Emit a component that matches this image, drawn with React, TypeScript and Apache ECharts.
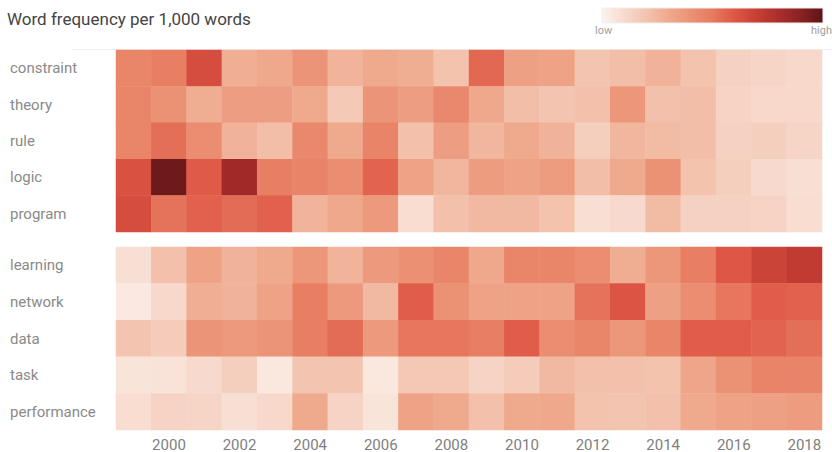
import React, { useEffect, useRef } from "react";
import * as echarts from "echarts";

const years = ["1999","2000","2001","2002","2003","2004","2005","2006","2007","2008","2009","2010","2011","2012","2013","2014","2015","2016","2017","2018"];
const topWords = ["constraint", "theory", "rule", "logic", "program"];
const bottomWords = ["learning", "network", "data", "task", "performance"];

const constraint = [45,48,64,28,31,39,26,30,29,20,55,34,33,19,22,27,20,14,12,11];
const theory = [45,40,29,35,35,30,17,39,35,44,31,22,19,21,38,21,22,13,11,11];
const rule = [45,53,42,27,22,44,30,46,21,35,25,30,27,15,25,23,22,14,15,12];
const logic = [62,96,59,83,48,46,42,56,33,25,36,33,36,22,30,40,20,15,10,8];
const program = [64,52,57,54,57,26,31,37,9,21,24,24,20,8,10,23,14,14,13,9];

const learning = [8,21,33,27,30,38,26,37,41,45,31,45,45,42,29,38,48,60,68,72];
const network = [4,11,28,27,33,48,37,24,58,40,33,33,33,52,61,34,42,51,58,57];
const dataW = [19,16,39,37,39,48,54,37,51,51,48,58,42,45,38,45,58,58,56,53];
const task = [6,7,10,15,5,19,19,5,18,18,13,16,24,21,21,20,32,40,46,46];
const performance = [9,13,12,8,11,30,13,6,33,30,21,30,31,20,19,21,30,33,34,36];

const topValues = [constraint, theory, rule, logic, program];
const bottomValues = [learning, network, dataW, task, performance];

const palette = ["#fdf3ee","#f7dacd","#f3c3ae","#efaa8e","#eb9275","#e77a5f","#de5644","#c63f35","#ab2d2b","#8a2222","#5c1419"];

function toCells(rows: number[][]) {
  const out: number[][] = [];
  rows.forEach((row, r) => row.forEach((v, c) => out.push([c, r, v])));
  return out;
}

export default function App() {
  const ref = useRef<HTMLDivElement>(null);
  useEffect(() => {
    if (!ref.current) return;
    const chart = echarts.init(ref.current, null, { renderer: "svg" });
    const font = "Roboto, sans-serif";
    const xAxisBase = {
      type: "category" as const,
      data: years,
      axisLine: { show: false },
      axisTick: { show: false },
      splitLine: { show: false },
    };
    const yAxisBase = {
      type: "category" as const,
      inverse: true,
      axisLine: { show: false },
      axisTick: { show: false },
      splitLine: { show: false },
      axisLabel: { align: "left" as const, margin: 106, color: "#8a8a8a", fontSize: 15, fontFamily: font },
    };
    chart.setOption({
      animation: false,
      textStyle: { fontFamily: font },
      title: {
        text: "Word frequency per 1,000 words",
        left: 2,
        top: 5,
        textStyle: { fontSize: 17, fontWeight: "normal", color: "#444", fontFamily: font },
      },
      grid: [
        { left: 116, top: 50, width: 706, height: 182 },
        { left: 116, top: 247, width: 706, height: 183 },
      ],
      xAxis: [
        { ...xAxisBase, gridIndex: 0, axisLabel: { show: false } },
        {
          ...xAxisBase,
          gridIndex: 1,
          axisLabel: {
            color: "#808080",
            fontSize: 15,
            fontFamily: font,
            margin: 7,
            interval: 0,
            formatter: (v: string) => (Number(v) % 2 === 0 ? v : ""),
          },
        },
      ],
      yAxis: [
        { ...yAxisBase, gridIndex: 0, data: topWords },
        { ...yAxisBase, gridIndex: 1, data: bottomWords },
      ],
      visualMap: {
        show: false,
        min: 0,
        max: 100,
        seriesIndex: [0, 1],
        inRange: { color: palette },
      },
      graphic: [
        {
          type: "rect",
          shape: { x: 602, y: 8, width: 221, height: 15 },
          style: {
            fill: new echarts.graphic.LinearGradient(0, 0, 1, 0, palette.map((c, i) => ({ offset: i / (palette.length - 1), color: c }))),
            stroke: "#eeeeee",
            lineWidth: 1,
          },
        },
        { type: "text", left: 595, top: 25, style: { text: "low", fill: "#a0a0a0", fontSize: 11, fontFamily: font } },
        { type: "text", right: 0, top: 25, style: { text: "high", fill: "#a0a0a0", fontSize: 11, fontFamily: font } },
        { type: "line", shape: { x1: 72, y1: 49.5, x2: 832, y2: 49.5 }, style: { stroke: "#efefef", lineWidth: 1 }, z: -1 },
      ],
      series: [
        {
          type: "heatmap",
          xAxisIndex: 0,
          yAxisIndex: 0,
          data: toCells(topValues),
          itemStyle: { borderWidth: 0 },
          emphasis: { disabled: true },
        },
        {
          type: "heatmap",
          xAxisIndex: 1,
          yAxisIndex: 1,
          data: toCells(bottomValues),
          itemStyle: { borderWidth: 0 },
          emphasis: { disabled: true },
        },
      ],
    });
    return () => chart.dispose();
  }, []);
  return <div ref={ref} style={{ width: 832, height: 452, position: "absolute", left: 0, top: 0 }} />;
}
